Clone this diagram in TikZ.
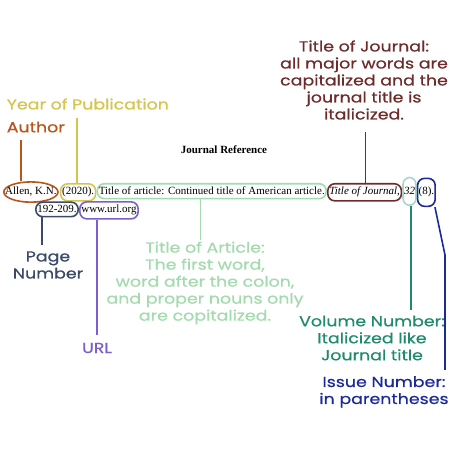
\documentclass[tikz,border=0pt]{standalone}
\usepackage{fontspec}
\setmainfont{Liberation Serif}
\newfontfamily\labelfont{Poppins}[FakeStretch=1.2, FakeBold=0.6]
\usepackage{xcolor}
\usetikzlibrary{positioning}
\usetikzlibrary{calc}
\usetikzlibrary{math}
\usetikzlibrary{shapes.geometric}

\definecolor{authorc}{HTML}{B8541C}
\definecolor{yearc}{HTML}{D6C44C}
\definecolor{artc}{HTML}{A3DAAE}
\definecolor{jourc}{HTML}{6E2B2B}
\definecolor{volbox}{HTML}{A9D6CB}
\definecolor{volc}{HTML}{1F8B6B}
\definecolor{issc}{HTML}{1C2999}
\definecolor{pagec}{HTML}{3A4A68}
\definecolor{urlc}{HTML}{7B5FCC}

\begin{document}
\begin{tikzpicture}[x=1pt,y=1pt,line width=1.6pt,
  reftext/.style={font=\fontsize{11}{13}\selectfont, inner xsep=1.5pt, inner ysep=3.5pt},
  refbox/.style={reftext, draw, rounded corners=7pt},
  tallbox/.style={refbox, minimum height=28pt, inner xsep=1pt},
  lbl/.style={font=\labelfont\fontsize{14.5}{17}\selectfont, align=center, inner sep=0pt}]

  \useasboundingbox (0,0) rectangle (450,450);

  % heading
  \node[font=\fontsize{11}{13}\selectfont\bfseries] (head) at (224,300) {Journal Reference};

  % reference, first line
  \node[reftext, ellipse, draw=authorc, inner xsep=-6.5pt, inner ysep=2.5pt, anchor=base west]
    (auth) at (3,255) {Allen, K.N.};
  \node[refbox, draw=yearc, base right=1pt of auth] (year) {(2020).};
  \node[refbox, draw=artc, base right=0pt of year] (art)
    {Title of article: Continued title of American article.};
  \node[refbox, draw=jourc, base right=0pt of art] (jour) {\textit{Title of Journal,}};
  \node[tallbox, draw=volbox, base right=0pt of jour] (vol) {\textit{32}};
  \node[tallbox, draw=issc, base right=0pt of vol] (iss) {(8).};

  % reference, second line
  \node[refbox, draw=pagec, anchor=base west] (page) at (35,237) {192-209.};
  \node[refbox, draw=urlc, base right=0pt of page] (url) {www.url.org};

  % labels
  \node[lbl, text=yearc, anchor=west] (yearlbl) at (6,346) {Year of Publication};
  \node[lbl, text=authorc, anchor=west] (authlbl) at (6,323) {Author};
  \node[lbl, text=jourc] (jourlbl) at (364,370)
    {Title of Journal:\\all major words are\\capitalized and the\\journal title is\\italicized.};
  \node[lbl, text=pagec] (pagelbl) at (48,185) {Page\\Number};
  \node[lbl, text=urlc] (urllbl) at (97,102) {URL};
  \node[lbl, text=artc] (artlbl) at (205,167)
    {Title of Article:\\The first word,\\word after the colon,\\and proper nouns only\\are copitalized.};
  \node[lbl, text=volc] (vollbl) at (372,112) {Volume Number:\\Italicized like\\Journal title};
  \node[lbl, text=issc] (isslbl) at (384,58) {Issue Number:\\in parentheses};

  % free ends of the connectors
  \coordinate (authtop) at (21,310);
  \coordinate (yeartop) at (77,332);
  \coordinate (jourtop) at (365,318);
  \coordinate (pagebot) at (42,205);
  \coordinate (urlbot)  at (97,115);
  \coordinate (artbot)  at (200,210);
  \coordinate (volbot)  at (411,140);
  \coordinate (issbend) at (445,195);
  \coordinate (issbot)  at (445,80);

  % connectors
  \draw[authorc] (authtop) -- (authtop |- auth.north);
  \draw[yearc] (yeartop) -- (yeartop |- year.north);
  \draw[jourc, line width=1pt] (jourtop) -- (jourtop |- jour.north);
  \draw[pagec] (pagebot |- page.south) -- (pagebot);
  \draw[urlc] (urlbot |- url.south) -- (urlbot);
  \draw[artc, line width=1pt] (artbot |- art.south) -- (artbot);
  \draw[volc] (volbot |- vol.south) -- (volbot);
  \draw[issc] (iss.-60) -- (issbend) -- (issbot);

\end{tikzpicture}
\end{document}
